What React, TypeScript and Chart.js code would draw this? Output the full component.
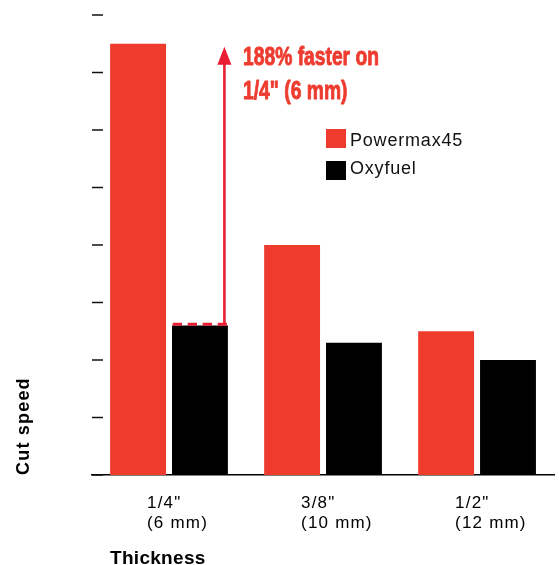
import { useEffect, useRef } from "react";
import { Chart, registerables } from "chart.js";

Chart.register(...registerables);

// ---- data ----
const categories: string[][] = [
  ['1/4"', "(6 mm)"],
  ['3/8"', "(10 mm)"],
  ['1/2"', "(12 mm)"],
];
const seriesNames: string[] = ["Powermax45", "Oxyfuel"];
const powermax45: number[] = [7.5, 4.0, 2.5];
const oxyfuel: number[] = [2.6, 2.3, 2.0];
const yMin = 0;
const yMax = 8;
const yStep = 1;
const xTitle = "Thickness";
const yTitle = "Cut speed";
const annotationLines: string[] = ["188% faster on", '1/4" (6 mm)'];

// ---- styles ----
const RED = "#EF3B2D";
const BLACK = "#000000";
const ARROW = "#E91E34";
const NOTE = "#EE3C30";
const FAMILY = '"Liberation Sans", Arial, Helvetica, sans-serif';

const decorPlugin = {
  id: "decor",
  beforeDraw(chart: any) {
    chart.ctx.letterSpacing = "1.2px";
  },
  afterDraw(chart: any) {
    const { ctx, chartArea, scales } = chart;
    const y = scales.y;
    ctx.save();
    ctx.letterSpacing = "0px";

    // y tick marks inside the plot's left edge
    ctx.strokeStyle = "#111";
    ctx.lineWidth = 1.5;
    y.ticks.forEach((t: any) => {
      const py = y.getPixelForValue(t.value);
      ctx.beginPath();
      ctx.moveTo(chartArea.left, py);
      ctx.lineTo(chartArea.left + 11, py);
      ctx.stroke();
    });

    // legend
    chart.data.datasets.forEach((ds: any, i: number) => {
      ctx.fillStyle = ds.backgroundColor;
      ctx.fillRect(326, 129 + i * 32, 20, 19);
      ctx.fillStyle = "#111";
      ctx.font = `18px ${FAMILY}`;
      ctx.letterSpacing = "0.8px";
      ctx.textAlign = "left";
      ctx.textBaseline = "alphabetic";
      ctx.fillText(ds.label, 350, 146 + i * 28);
    });

    // x axis title
    ctx.letterSpacing = "0.3px";
    ctx.fillStyle = "#000";
    ctx.font = `bold 19px ${FAMILY}`;
    ctx.fillText(xTitle, 110, 564);
    ctx.letterSpacing = "0px";

    // annotation: dashed line on top of the Oxyfuel 1/4" bar + arrow
    const bar: any = chart.getDatasetMeta(1).data[0];
    const { x, width } = bar.getProps(["x", "width"], true);
    const yTop = y.getPixelForValue(oxyfuel[0]);
    const tipY = y.getPixelForValue(powermax45[0]) + 3;
    ctx.strokeStyle = ARROW;
    ctx.lineWidth = 3;
    ctx.setLineDash([9.3, 5.7]);
    ctx.beginPath();
    ctx.moveTo(x - width / 2 + 0.7, yTop - 1.2);
    ctx.lineTo(x + width / 2 - 1, yTop - 1.2);
    ctx.stroke();
    ctx.setLineDash([]);
    const ax = x + width / 2 - 3.5;
    ctx.lineWidth = 2.6;
    ctx.beginPath();
    ctx.moveTo(ax, yTop - 1);
    ctx.lineTo(ax, tipY + 16);
    ctx.stroke();
    ctx.fillStyle = ARROW;
    ctx.beginPath();
    ctx.moveTo(ax, tipY);
    ctx.lineTo(ax - 7, tipY + 18);
    ctx.lineTo(ax + 7, tipY + 18);
    ctx.closePath();
    ctx.fill();

    // annotation text (condensed bold)
    ctx.font = 'bold 25px "Liberation Sans Narrow", monospace';
    const wNarrow = ctx.measureText(annotationLines[0]).width;
    ctx.font = "bold 25px monospace";
    const wMono = ctx.measureText(annotationLines[0]).width;
    let fontStr = 'bold 25px "Liberation Sans Narrow"';
    if (Math.abs(wNarrow - wMono) < 0.01) fontStr = `bold 25px ${FAMILY}`;
    ctx.font = fontStr;
    const w = ctx.measureText(annotationLines[0]).width;
    const sx = 136 / w;
    ctx.fillStyle = NOTE;
    ctx.strokeStyle = NOTE;
    ctx.lineWidth = 0.9;
    ctx.lineJoin = "round";
    ctx.textAlign = "left";
    ctx.textBaseline = "alphabetic";
    annotationLines.forEach((line, i) => {
      ctx.save();
      ctx.translate(243, 65 + i * 34);
      ctx.scale(sx, 1);
      ctx.fillText(line, 0, 0);
      ctx.strokeText(line, 0, 0);
      ctx.restore();
    });

    ctx.restore();
  },
};

export default function App() {
  const ref = useRef<HTMLCanvasElement | null>(null);
  useEffect(() => {
    if (!ref.current) return;
    const chart = new Chart(ref.current, {
      type: "bar",
      data: {
        labels: categories,
        datasets: [
          { label: seriesNames[0], data: powermax45, backgroundColor: RED, borderWidth: 0 },
          { label: seriesNames[1], data: oxyfuel, backgroundColor: BLACK, borderWidth: 0 },
        ],
      },
      options: {
        animation: false,
        responsive: true,
        maintainAspectRatio: false,
        devicePixelRatio: 1,
        datasets: { bar: { categoryPercentage: 0.8035, barPercentage: 0.9032 } },
        layout: { padding: { left: 0, top: 15, right: 4, bottom: 0 } },
        plugins: { legend: { display: false }, tooltip: { enabled: false } },
        scales: {
          x: {
            type: "category",
            offset: true,
            grid: { display: false, drawTicks: false },
            border: { display: true, color: "#000", width: 1.5 },
            ticks: {
              align: "start",
              labelOffset: -22,
              padding: 18,
              color: "#000",
              maxRotation: 0,
              autoSkip: false,
              font: { family: FAMILY, size: 17, lineHeight: 1.2 },
            },
            afterFit: (s: any) => {
              s.height = 90;
            },
          },
          y: {
            min: yMin,
            max: yMax,
            ticks: { display: false, stepSize: yStep },
            grid: { display: false, drawTicks: false },
            border: { display: false },
            title: {
              display: true,
              text: yTitle,
              align: "start",
              color: "#000",
              padding: { top: 13, bottom: 0 },
              font: { family: FAMILY, size: 18, weight: "bold", lineHeight: 1.2 },
            },
            afterFit: (s: any) => {
              s.width = 92;
            },
          },
        },
      } as any,
      plugins: [decorPlugin],
    });
    return () => chart.destroy();
  }, []);

  return (
    <div style={{ position: "fixed", left: 0, top: 0, width: 559, height: 565, background: "#fff" }}>
      <canvas ref={ref} style={{ display: "block" }} />
    </div>
  );
}
